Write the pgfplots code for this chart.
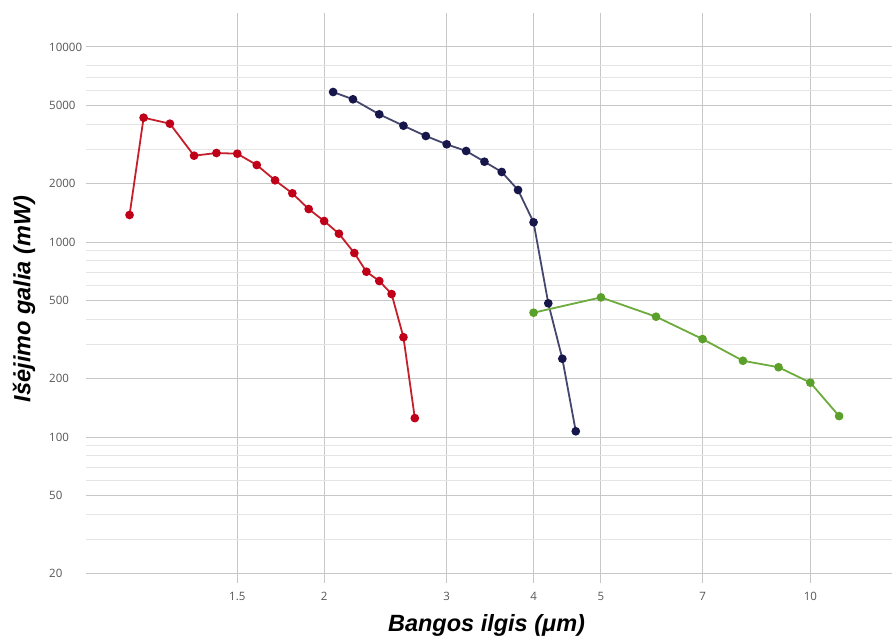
\documentclass[border=0pt]{standalone}
\usepackage{pgfplots}
\pgfplotsset{compat=1.18}
\usepackage{fontspec}
\setmainfont{Liberation Sans}
\newfontfamily\tickfont{Open Sans}
\definecolor{redline}{HTML}{C4202B}
\definecolor{redmark}{HTML}{C00018}
\definecolor{navyline}{HTML}{44466E}
\definecolor{navymark}{HTML}{16164A}
\definecolor{greenline}{HTML}{6CAB3C}
\definecolor{greenmark}{HTML}{5AA02A}
\definecolor{tickgray}{HTML}{555555}
\begin{document}
\begin{tikzpicture}
\useasboundingbox (-86pt,-57pt) rectangle (806pt,583pt);
\begin{axis}[
  name=ax,
  at={(0,0)}, anchor=south west,
  scale only axis,
  width=806pt, height=570pt,
  xmode=log, ymode=log,
  xmin=0.909, xmax=13.105,
  ymin=17.84, ymax=14940,
  axis line style={draw=none},
  major tick length=0pt, minor tick length=0pt,
  xtick={1.5,2,3,4,5,7,10},
  xticklabels={1.5,2,3,4,5,7,10},
  ytick={20,50,100,200,500,1000,2000,5000,10000},
  yticklabels={20,50,100,200,500,1000,2000,5000,10000},
  minor ytick={30,40,60,70,80,90,300,400,600,700,800,900,3000,4000,6000,7000,8000},
  minor xtick={},
  grid=both,
  major grid style={draw=black!22, line width=1.0pt},
  minor grid style={draw=black!10, line width=0.9pt},
  xticklabel style={font=\tickfont\fontsize{11.5}{12}\selectfont, text=tickgray, anchor=center, inner sep=0pt, yshift=-13pt},
  yticklabel style={font=\tickfont\fontsize{11.5}{12}\selectfont, text=tickgray, anchor=west, inner sep=0pt, xshift=-37pt},
  xlabel={\textbf{\textit{Bangos ilgis (μm)}}},
  ylabel={\textbf{\textit{Išėjimo galia (mW)}}},
  xlabel style={at={(axis description cs:0.497,-0.0737)}, anchor=center, font=\fontsize{23.5}{26}\selectfont},
  ylabel style={at={(axis description cs:-0.0769,0.4984)}, anchor=center, rotate=0, font=\fontsize{23.5}{26}\selectfont},
  clip=false,
]
\addplot[color=redline, line width=1.8pt, mark=*, mark size=3.4pt, mark options={fill=redmark, draw=redmark}] coordinates {
(1.05,1376) (1.10,4340) (1.20,4044) (1.30,2771) (1.40,2860) (1.50,2837)
(1.60,2482) (1.70,2072) (1.80,1777) (1.90,1476) (2.00,1281) (2.10,1103)
(2.21,878) (2.30,704) (2.40,631) (2.50,541) (2.60,325) (2.70,125)
};
\addplot[color=navyline, line width=1.8pt, mark=*, mark size=3.4pt, mark options={fill=navymark, draw=navymark}] coordinates {
(2.06,5877) (2.20,5393) (2.40,4516) (2.60,3948) (2.80,3496) (3.00,3170)
(3.20,2929) (3.40,2581) (3.60,2286) (3.80,1848) (4.00,1262) (4.20,485)
(4.40,252) (4.60,107)
};
\addplot[color=greenline, line width=1.8pt, mark=*, mark size=3.4pt, mark options={fill=greenmark, draw=greenmark}] coordinates {
(4,434) (5,520) (6,414) (7,318) (8,246) (9,228) (10,190) (11,128)
};
\end{axis}
\end{tikzpicture}
\end{document}
